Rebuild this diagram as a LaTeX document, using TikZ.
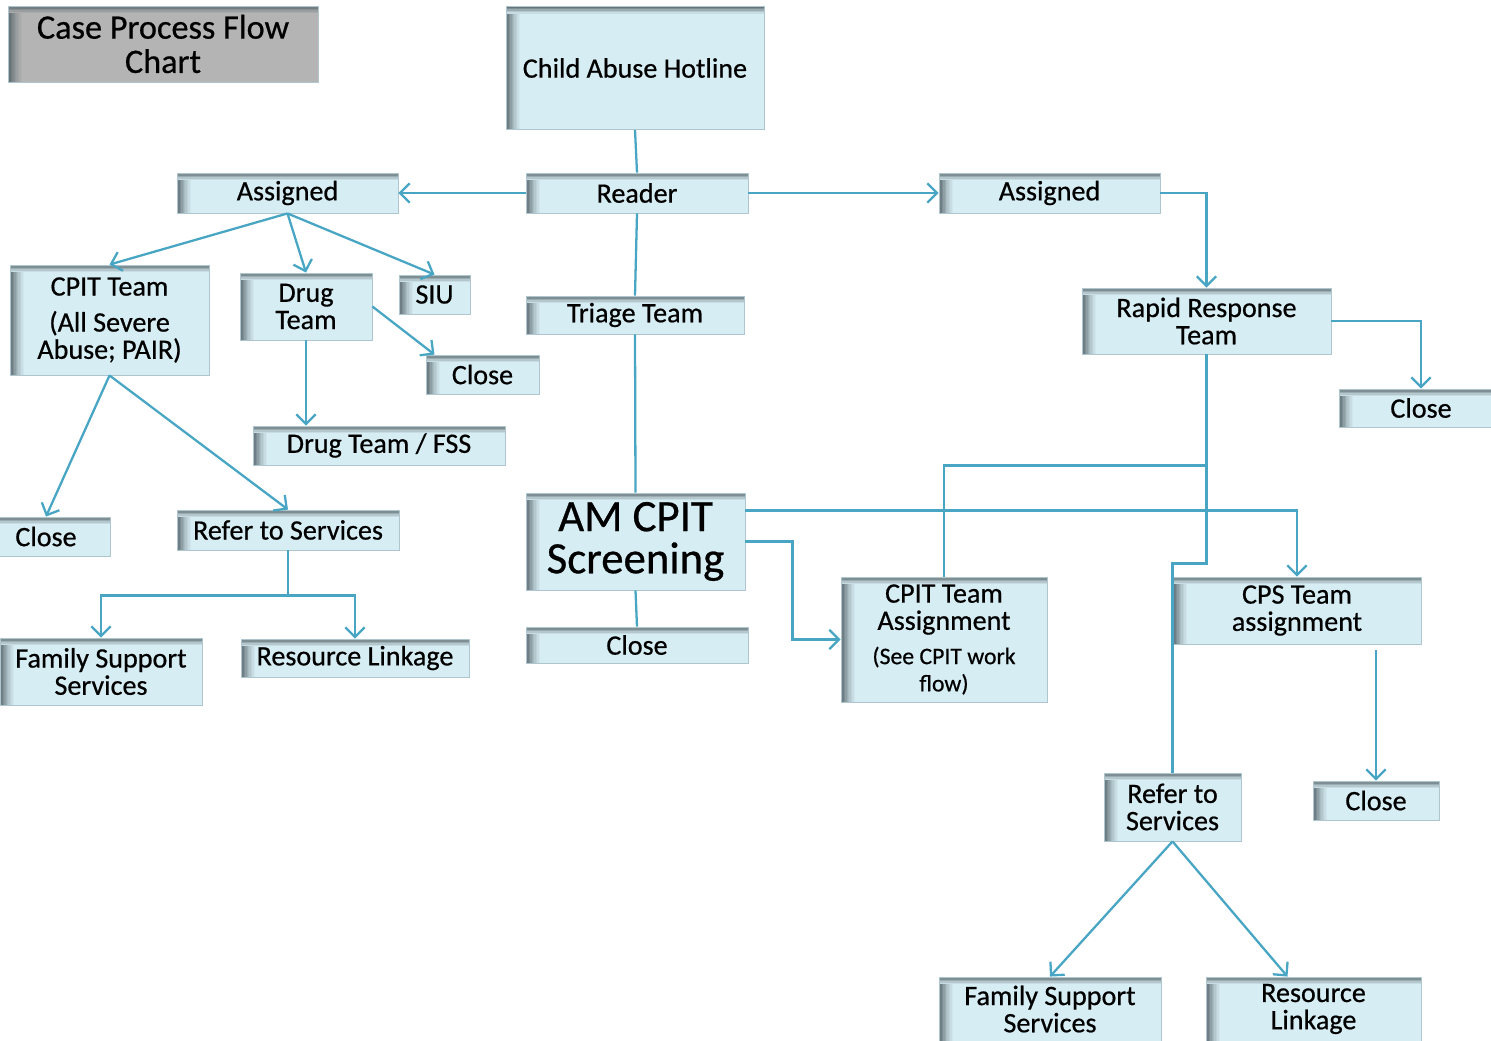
\documentclass[tikz,border=0pt]{standalone}
\usepackage{fontspec}
\setmainfont{Carlito}[FakeBold=0.6]
\usepackage{tikz}
\usetikzlibrary{positioning,arrows.meta}
\definecolor{boxfill}{RGB}{214,237,243}
\definecolor{boxedge}{RGB}{175,198,206}
\definecolor{flowline}{RGB}{72,166,196}
\definecolor{edgeshade}{RGB}{88,102,108}
\definecolor{titlefill}{RGB}{180,180,180}
\newcommand{\boxfont}{\fontsize{16}{15.5}\selectfont}
\newcommand{\notefont}{\fontsize{13.5}{13}\selectfont}

\begin{document}
\begin{tikzpicture}[
    x=0.02cm, y=-0.02cm,
    >={Straight Barb[length=5.5pt,width=11pt]},
    line width=1.3pt,
    flow/.style={draw=flowline},
    edge shade/.style={path picture={
        \foreach \k/\pc in {0/95,1/82,2/70,3/58,4/47,5/37,6/28,7/20,8/12,9/5}
          \fill[edgeshade!\pc!#1] ([xshift=\k*0.8pt]path picture bounding box.south west)
            rectangle ([xshift=\k*0.8pt+0.85pt]path picture bounding box.north west);
        \foreach \k/\pc in {0/90,1/70,2/48,3/28,4/12}
          \fill[edgeshade!\pc!#1] ([yshift=-\k*0.8pt]path picture bounding box.north west)
            rectangle ([yshift=-\k*0.8pt-0.85pt]path picture bounding box.north east);
      }},
    box/.style={draw=boxedge, line width=0.5pt, fill=boxfill, align=center,
      inner sep=2pt, font=\boxfont, edge shade=boxfill},
    title box/.style={box, fill=titlefill, font=\fontsize{19.5}{19.5}\selectfont,
      edge shade=titlefill}
    ]
    \useasboundingbox (0,0) rectangle (1491,1041);

    % title
    \node[title box, minimum width=6.2cm, minimum height=1.52cm] (title) at (163,44) {Case Process Flow\\Chart};

    % middle column
    \node[box, minimum width=5.16cm, minimum height=2.46cm] (hotline) at (635,68) {Child Abuse Hotline};
    \node[box, minimum width=4.44cm, minimum height=0.8cm] (reader) at (637,193) {Reader};
    \node[box, minimum width=4.36cm, minimum height=0.76cm] (triage) at (635,315) {Triage Team};
    \node[box, minimum width=4.38cm, minimum height=1.94cm, font=\fontsize{25.5}{24}\selectfont] (amcpit) at (635.5,541.5) {AM CPIT\\Screening};
    \node[box, minimum width=4.44cm, minimum height=0.72cm] (closeAM) at (637,645) {Close};

    % left branch
    \node[box, minimum width=4.42cm, minimum height=0.8cm] (asgL) at (287.5,193) {Assigned};
    \node[box, minimum width=3.98cm, minimum height=2.2cm] (cpit) at (109.5,320) {CPIT Team\\[5pt](All Severe\\Abuse; PAIR)};
    \node[box, minimum width=2.64cm, minimum height=1.34cm] (drug) at (306,306.5) {Drug\\Team};
    \node[box, minimum width=1.42cm, minimum height=0.78cm] (siu) at (434.5,294.5) {SIU};
    \node[box, minimum width=2.26cm, minimum height=0.78cm] (closeD) at (482.5,374.5) {Close};
    \node[box, minimum width=5.04cm, minimum height=0.78cm] (drugfss) at (379,445.5) {Drug Team / FSS};
    \node[box, minimum width=2.56cm, minimum height=0.78cm] (closeL) at (46,536.5) {Close};
    \node[box, minimum width=4.44cm, minimum height=0.8cm] (referL) at (288,530) {Refer to Services};
    \node[box, minimum width=4.04cm, minimum height=1.34cm] (fssL) at (101,671.5) {Family Support\\Services};
    \node[box, minimum width=4.56cm, minimum height=0.76cm] (resL) at (355,658) {Resource Linkage};

    % right branch
    \node[box, minimum width=4.42cm, minimum height=0.8cm] (asgR) at (1049.5,193) {Assigned};
    \node[box, minimum width=4.98cm, minimum height=1.32cm] (rapid) at (1206.5,321) {Rapid Response\\Team};
    \node[box, minimum width=3.28cm, minimum height=0.76cm] (closeR) at (1421,408) {Close};
    \node[box, minimum width=4.12cm, minimum height=2.5cm] (cpitA) at (944,639.5) {CPIT Team\\Assignment\\[4pt]{\notefont(See CPIT work}\\{\notefont flow)}};
    \node[box, minimum width=4.96cm, minimum height=1.34cm] (cps) at (1297,610.5) {CPS Team\\assignment};
    \node[box, minimum width=2.74cm, minimum height=1.36cm] (referR) at (1172.5,807) {Refer to\\Services};
    \node[box, minimum width=2.52cm, minimum height=0.78cm] (closeRB) at (1376,800.5) {Close};
    \node[box, minimum width=4.44cm, minimum height=1.28cm] (fssR) at (1050,1009) {Family Support\\Services};
    \node[box, minimum width=4.3cm, minimum height=1.28cm] (resR) at (1313.5,1009) {Resource\\Linkage};

    % middle connectors
    \draw[flow] (hotline.south) -- (reader.north);
    \draw[flow] (reader.south) -- (triage.north);
    \draw[flow] (triage.south) -- (amcpit.north);
    \draw[flow] (amcpit.south) -- (closeAM.north);
    \draw[flow,->] (reader.west) -- (asgL.east);
    \draw[flow,->] (reader.east) -- (asgR.west);

    % left connectors
    \draw[flow,->] (asgL.south) -- (cpit.north);
    \draw[flow,->] (asgL.south) -- (drug.north);
    \draw[flow,->] (asgL.south) -- (siu.north);
    \draw[flow,->] (drug.east) -- (closeD.north -| siu.south);
    \draw[flow,->] (drug.south) -- (drug.south |- drugfss.north);
    \draw[flow,->] (cpit.south) -- (closeL.north);
    \draw[flow,->] (cpit.south) -- (referL.north);
    \draw[flow,->] (referL.south) -- ++(0,45) -| (fssL.north);
    \draw[flow,->] (referL.south) -- ++(0,45) -| (resL.north);

    % right connectors
    \draw[flow,->] (asgR.east) -| (rapid.north);
    \draw[flow,->] (rapid.east) -| (closeR.north);
    \draw[flow] (rapid.south) -- ++(0,111) -| (cpitA.north);
    \draw[flow] (rapid.south) -- ++(0,209) -| (referR.north);
    \draw[flow,->] ([yshift=-0.36cm]amcpit.north east) -| (cps.north);
    \draw[flow,->] (amcpit.east) -- ++(47,0) |- (cpitA.west);
    \draw[flow,->] ([yshift=-0.12cm]closeRB.north |- cps.south) -- (closeRB.north);
    \draw[flow,->] (referR.south) -- (fssR.north);
    \draw[flow,->] (referR.south) -- ([xshift=-0.52cm]resR.north);
\end{tikzpicture}
\end{document}
